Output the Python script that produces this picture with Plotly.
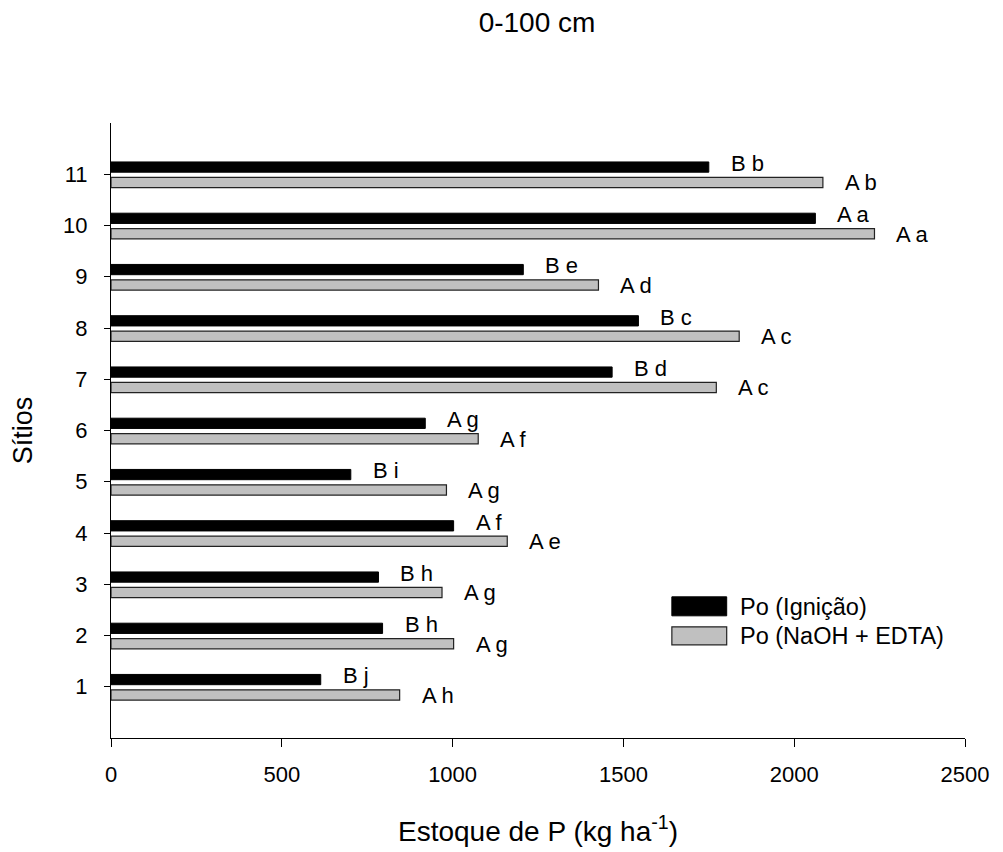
import plotly.graph_objects as go

sitios = [1, 2, 3, 4, 5, 6, 7, 8, 9, 10, 11]
po_ignicao = [614, 795, 783, 1003, 702, 920, 1467, 1544, 1207, 2062, 1750]
po_naoh = [845, 1003, 969, 1160, 982, 1075, 1772, 1839, 1427, 2235, 2084]
lab_ignicao = ["B j", "B h", "B h", "A f", "B i", "A g", "B d", "B c", "B e", "A a", "B b"]
lab_naoh = ["A h", "A g", "A g", "A e", "A g", "A f", "A c", "A c", "A d", "A a", "A b"]
x_ticks = [0, 500, 1000, 1500, 2000, 2500]

FONT = "Liberation Sans, Arial, sans-serif"

# plot area in figure pixels (page is offset 8px by body margin)
L, R, T, B = 100.5, 957.0, 114.7, 730.3
W, H = R - L, B - T

fig = go.Figure()
fig.add_trace(go.Bar(
    y=sitios, x=po_ignicao, orientation="h", name="Po (Ignição)",
    marker=dict(color="black", line=dict(color="black", width=1)),
    width=0.2, offset=0.04, showlegend=False))
fig.add_trace(go.Bar(
    y=sitios, x=po_naoh, orientation="h", name="Po (NaOH + EDTA)",
    marker=dict(color="#c0c0c0", line=dict(color="#222222", width=1.2)),
    width=0.2, offset=-0.26, showlegend=False))

annotations = []
for s, v, t in zip(sitios, po_ignicao, lab_ignicao):
    annotations.append(dict(x=v, y=s + 0.21, text=t, xref="x", yref="y",
                            xanchor="left", yanchor="middle", showarrow=False,
                            xshift=20, font=dict(size=22, color="black", family=FONT)))
for s, v, t in zip(sitios, po_naoh, lab_naoh):
    annotations.append(dict(x=v, y=s - 0.17, text=t, xref="x", yref="y",
                            xanchor="left", yanchor="middle", showarrow=False,
                            xshift=20, font=dict(size=22, color="black", family=FONT)))

def px(xp):
    return (xp - L) / W
def py(yp):
    return (B - yp) / H

shapes = [
    dict(type="rect", xref="paper", yref="paper", x0=px(663), x1=px(718), y0=py(608), y1=py(589),
         fillcolor="black", line=dict(color="black", width=1)),
    dict(type="rect", xref="paper", yref="paper", x0=px(663), x1=px(718), y0=py(637), y1=py(619),
         fillcolor="#c0c0c0", line=dict(color="#222222", width=1.2)),
]
annotations.append(dict(x=px(729), y=py(599), xref="paper", yref="paper", text="Po (Ignição)",
                        xanchor="left", yanchor="middle", showarrow=False,
                        font=dict(size=23.5, color="black", family=FONT)))
annotations.append(dict(x=px(729), y=py(628), xref="paper", yref="paper", text="Po (NaOH + EDTA)",
                        xanchor="left", yanchor="middle", showarrow=False,
                        font=dict(size=23.5, color="black", family=FONT)))

fig.update_layout(
    width=1003, height=852,
    paper_bgcolor="white", plot_bgcolor="white",
    margin=dict(l=L, r=1003 - R, t=T, b=852 - B),
    barmode="overlay",
    font=dict(family=FONT, size=22, color="black"),
    title=dict(text="0-100 cm", x=529 / 1003, xanchor="center", y=1 - 14 / 852, yanchor="middle",
               font=dict(size=28, family=FONT, color="black")),
    annotations=annotations,
    shapes=shapes,
)
fig.update_xaxes(range=[0, 2500], tickvals=x_ticks, showgrid=False, zeroline=False,
                 showline=True, linecolor="black", linewidth=1.2,
                 ticks="outside", ticklen=8, tickcolor="black", tickwidth=1.2,
                 ticklabelstandoff=8,
                 tickfont=dict(size=22, family=FONT),
                 title=dict(text="Estoque de P (kg ha<sup>-1</sup>)", standoff=35,
                            font=dict(size=28, family=FONT)))
fig.update_yaxes(range=[0, 12], tickvals=sitios, showgrid=False, zeroline=False,
                 showline=True, linecolor="black", linewidth=1.2,
                 ticks="outside", ticklen=6, tickcolor="black", tickwidth=1.2,
                 ticklabelstandoff=12,
                 tickfont=dict(size=22, family=FONT),
                 title=dict(text="Sítios", standoff=24, font=dict(size=27, family=FONT)))

fig.write_html("out.html")
